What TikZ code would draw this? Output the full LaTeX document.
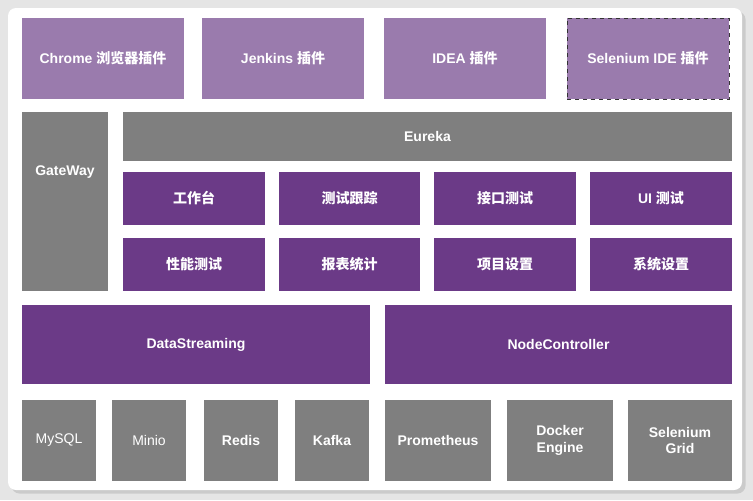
\documentclass[tikz,border=0pt]{standalone}
\usepackage{fontspec}
\setmainfont{Liberation Sans}
\newfontfamily\cjk{Noto Sans CJK SC}
\usetikzlibrary{shadows}
\definecolor{lp}{HTML}{9A7BAD}
\definecolor{dp}{HTML}{6B3A87}
\definecolor{gr}{HTML}{7F7F7F}
\tikzset{
 bx/.style={draw=none,text=white,inner sep=0pt,align=center,font=\fontsize{10.5}{12.5}\selectfont\bfseries},
 light/.style={bx,fill=lp},
 dark/.style={bx,fill=dp},
 grey/.style={bx,fill=gr},
 greyn/.style={grey,font=\fontsize{10.5}{12.5}\selectfont},
 dashbox/.style={light,draw=black!80,dashed,line width=0.6pt}
}
\newcommand\B[7]{%
 \pgfmathsetmacro\cx{(#3+#5)/2}\pgfmathsetmacro\cy{(#4+#6)/2}%
 \pgfmathsetmacro\ww{(#5-#3)*0.75}\pgfmathsetmacro\hh{(#6-#4)*0.75}%
 \node[#2,minimum width=\ww pt,minimum height=\hh pt] (#1) at (\cx,\cy) {#7};}
\begin{document}
\begin{tikzpicture}[x=0.75pt,y=-0.75pt]
\fill[gray!20] (0,0) rectangle (753,500);
\fill[white,rounded corners=6pt,drop shadow={opacity=0.25}] (8,8) rectangle (742,490);
\B{chrome}{light}{22}{18}{184}{99}{Chrome {\cjk 浏览器插件}}
\B{jenkins}{light}{202}{18}{364}{99}{Jenkins {\cjk 插件}}
\B{idea}{light}{384}{18}{546}{99}{IDEA {\cjk 插件}}
\B{selide}{dashbox}{567}{18}{729}{99}{Selenium IDE {\cjk 插件}}
\B{gateway}{grey}{22}{112}{108}{291}{GateWay\\[34pt]}
\B{eureka}{grey}{123}{112}{732}{161}{Eureka}
\B{a1}{dark}{123}{172}{265}{225}{\cjk 工作台}
\B{a2}{dark}{279}{172}{420}{225}{\cjk 测试跟踪}
\B{a3}{dark}{434}{172}{576}{225}{\cjk 接口测试}
\B{a4}{dark}{590}{172}{732}{225}{UI {\cjk 测试}}
\B{b1}{dark}{123}{238}{265}{291}{\cjk 性能测试}
\B{b2}{dark}{279}{238}{420}{291}{\cjk 报表统计}
\B{b3}{dark}{434}{238}{576}{291}{\cjk 项目设置}
\B{b4}{dark}{590}{238}{732}{291}{\cjk 系统设置}
\B{ds}{dark}{22}{305}{370}{384}{DataStreaming}
\B{nc}{dark}{385}{305}{732}{384}{NodeController}
\B{mysql}{greyn}{22}{400}{96}{481}{MySQL}
\B{minio}{greyn}{112}{400}{186}{481}{Minio}
\B{redis}{grey}{204}{400}{278}{481}{Redis}
\B{kafka}{grey}{295}{400}{369}{481}{Kafka}
\B{prom}{grey}{385}{400}{491}{481}{Prometheus}
\B{docker}{grey}{507}{400}{613}{481}{Docker\\Engine}
\B{grid}{grey}{628}{400}{732}{481}{Selenium\\Grid}
\end{tikzpicture}
\end{document}
